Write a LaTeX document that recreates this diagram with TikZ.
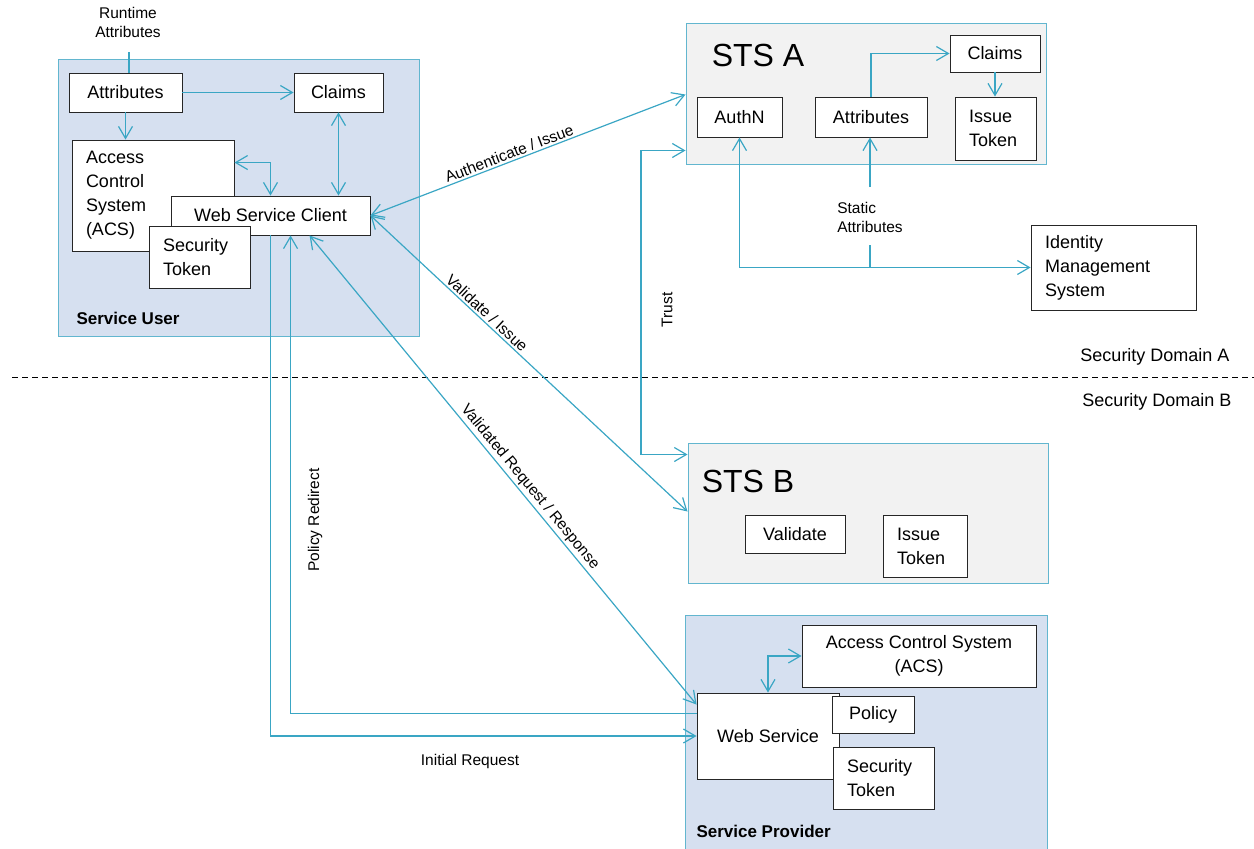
\documentclass[tikz,border=0pt]{standalone}
\usepackage{fontspec}
\setmainfont{Liberation Sans}
\usetikzlibrary{arrows.meta,calc}
\definecolor{linkc}{HTML}{3AA6C4}
\definecolor{regline}{HTML}{62B6CF}
\definecolor{userfill}{HTML}{D6E0F0}
\definecolor{stsfill}{HTML}{F2F2F2}

\begin{document}
\begin{tikzpicture}[x=1pt,y=-1pt,
  >={Straight Barb[length=12pt,width=14pt]},
  region/.style={draw=regline,line width=1pt,inner sep=0pt},
  box/.style={draw=black!85,fill=white,line width=0.9pt,inner sep=0pt,
    font=\fontsize{18}{24}\selectfont,align=center},
  leftbox/.style={box,align=left,inner xsep=14pt},
  link/.style={draw=linkc,line width=1.2pt},
  lbl/.style={font=\fontsize{15.5}{19}\selectfont,inner sep=2pt},
  title/.style={font=\fontsize{32}{36}\selectfont},
  domtext/.style={font=\fontsize{18}{22}\selectfont}]
\useasboundingbox (0,0) rectangle (1254,849);

% regions
\node[region,fill=userfill,minimum width=361,minimum height=277] (user) at (238.5,197.5) {};
\node[region,fill=stsfill,minimum width=360,minimum height=141] (stsa) at (866,93.5) {};
\node[region,fill=stsfill,minimum width=360,minimum height=140] (stsb) at (868,513) {};
\node[region,fill=userfill,minimum width=362,minimum height=240] (prov) at (866,735) {};

\node[title] (stsaname) at (758,55) {STS A};
\node[title] (stsbname) at (748,481) {STS B};
\node[font=\fontsize{17}{20}\selectfont\bfseries,anchor=west] (username) at (73,318) {Service User};
\node[font=\fontsize{17}{20}\selectfont\bfseries,anchor=west] (provname) at (693,831) {Service Provider};

% service user
\node[box,minimum width=113,minimum height=39] (attr) at (125.5,92.5) {Attributes};
\node[box,minimum width=89,minimum height=39] (claims) at (338.5,92.5) {Claims};
\node[leftbox,text width=134,minimum height=111] (acs) at (153,195.5) {Access\\Control\\System\\(ACS)};
\node[box,minimum width=199,minimum height=39] (wsc) at (270.5,215.5) {Web Service Client};
\node[leftbox,text width=73,minimum height=62] (usertok) at (199.5,257) {Security\\Token};

% sts a
\node[box,minimum width=85,minimum height=40] (authn) at (739.5,117) {AuthN};
\node[box,minimum width=112,minimum height=40] (sattr) at (871,117) {Attributes};
\node[box,minimum width=90,minimum height=37] (sclaims) at (995,53.5) {Claims};
\node[leftbox,text width=53,minimum height=63] (issuea) at (995.5,128.5) {Issue\\Token};
\node[leftbox,text width=137,minimum height=85] (ims) at (1113.5,267.5) {Identity\\Management\\System};

% sts b
\node[box,minimum width=100,minimum height=38] (validate) at (795,534) {Validate};
\node[leftbox,text width=56,minimum height=62] (issueb) at (925,546) {Issue\\Token};

% service provider
\node[box,minimum width=234,minimum height=62] (provacs) at (919,656) {Access Control System\\(ACS)};
\node[box,minimum width=142,minimum height=86] (ws) at (768,736) {Web Service};
\node[box,minimum width=82,minimum height=37] (policy) at (873,714.5) {Policy};
\node[leftbox,text width=73,minimum height=62] (provtok) at (883.5,778) {Security\\Token};

% labels
\node[lbl,align=center] (runtime) at (128,22) {Runtime\\Attributes};
\node[lbl,align=left] (static) at (870,217) {Static\\Attributes};
\node[lbl,rotate=90] (trust) at (667,310) {Trust};
\node[lbl,rotate=90] (polred) at (315,520) {Policy Redirect};
\node[lbl] (initreq) at (470,761) {Initial Request};
\node[domtext] (doma) at (1155,357) {Security Domain A};
\node[domtext] (domb) at (1157,402) {Security Domain B};

\coordinate (rt) at (129,52);
\coordinate (st1) at (870,187);
\coordinate (st2) at (870,245);
\coordinate (trustbend) at (641,300);
\coordinate (dashl) at (12,377);
\coordinate (dashr) at (1254,377);

\draw[dashed,dash pattern=on 6pt off 4pt,line width=1pt] (dashl) -- (dashr);

% connectors
\draw[link] (rt) -- (rt |- attr.north);
\draw[link,->] (attr.east) -- (claims.west);
\draw[link,->] (attr.south) -- (attr.south |- acs.north);
\draw[link,<->] ($(acs.north east)+(0,23)$) -| (wsc.north);
\draw[link,<->] (claims.south) -- (claims.south |- wsc.north);

\draw[link,<->] (wsc.east) -- node[lbl,sloped,above,pos=0.45] (authlbl) {Authenticate / Issue} ($(stsa.north west)+(0,72)$);
\draw[link,<->] (wsc.east) -- node[lbl,sloped,above,pos=0.35] (vallbl) {Validate / Issue} ($(stsb.north west)+(0,69)$);
\draw[link,<->] ($(wsc.south west)+(139,0)$) -- node[lbl,sloped,above,pos=0.55] (vrlbl) {Validated Request / Response} ($(ws.north west)+(0,12)$);
\draw[link,->] ($(ws.north west)+(0,21)$) -| ($(wsc.south west)+(120,0)$);
\draw[link,->] (wsc.south) |- (ws.west);

\draw[link,<->] ($(stsa.south west)+(0,-14)$) -| (trustbend) |- ($(stsb.north west)+(0,12)$);

\draw[link,->] (sattr.north) |- (sclaims.west);
\draw[link,->] (sclaims.south) -- (sclaims.south |- issuea.north);
\draw[link,<->] (authn.south) |- (ims.west);
\draw[link,->] (st1) -- (st1 |- sattr.south);
\draw[link] (st2) -- (st2 |- ims.west);

\draw[link,<->] (ws.north) |- (provacs.west);

\end{tikzpicture}
\end{document}
